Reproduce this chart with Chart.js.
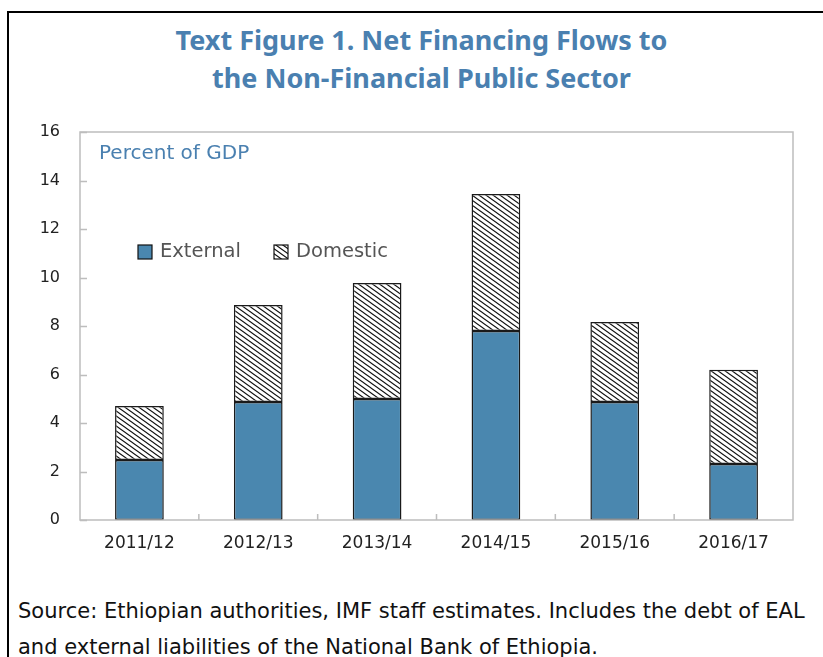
<!DOCTYPE html>
<html>
<head>
<meta charset="utf-8">
<script src="https://cdn.jsdelivr.net/npm/chart.js@4.4.0/dist/chart.umd.min.js"></script>
<style>
  body { margin: 0; background: #fff; width: 823px; height: 657px; overflow: hidden; position: relative; font-family: 'Noto Sans', sans-serif; }
  .frame { position: absolute; left: 7px; top: 11px; width: 830px; height: 700px; border-left: 2px solid #000; border-top: 2px solid #000; }
  .title { position: absolute; left: 0; width: 843px; top: 21px; text-align: center; color: #4A80B0; font-weight: bold; font-size: 27px; line-height: 38px; }
  .unit { position: absolute; left: 99px; top: 140px; color: #4A80B0; font-size: 20px; font-family: 'DejaVu Sans', sans-serif; }
  .note { position: absolute; left: 18px; top: 593px; color: #111; font-size: 21px; line-height: 36px; font-family: 'DejaVu Sans', sans-serif; }
  #wrap { position: absolute; left: 0; top: 103px; width: 823px; height: 457px; }
</style>
</head>
<body>
<div class="frame"></div>
<div class="title">Text Figure 1. Net Financing Flows to<br>the Non-Financial Public Sector</div>
<div id="wrap"><canvas id="chart"></canvas></div>
<div class="unit">Percent of GDP</div>
<div class="note">Source: Ethiopian authorities, IMF staff estimates. Includes the debt of EAL<br>and external liabilities of the National Bank of Ethiopia.</div>
<script>
const years = ['2011/12', '2012/13', '2013/14', '2014/15', '2015/16', '2016/17'];
const external = [2.47, 4.87, 4.99, 7.79, 4.87, 2.31];
const domestic = [2.23, 4.00, 4.78, 5.65, 3.29, 3.89];
const yTicks = [0, 2, 4, 6, 8, 10, 12, 14, 16];

const BLUE = '#4A87AF';

// diagonal hatch for the domestic part
function hatch() {
    const w = 7, h = 5;
    const c = document.createElement('canvas');
    c.width = w; c.height = h;
    const g = c.getContext('2d');
    g.fillStyle = '#fff';
    g.fillRect(0, 0, w, h);
    g.strokeStyle = '#111';
    g.lineWidth = 1.1;
    g.beginPath();
    for (let k = -1; k <= 1; k++) {
        g.moveTo(k * w - w, -h);
        g.lineTo(k * w + 2 * w, 2 * h);
    }
    g.stroke();
    return g.createPattern(c, 'repeat');
}
const hatchFill = hatch();

// plot frame, inside tick marks and legend
const decor = {
    id: 'decor',
    afterDatasetsDraw(chart) {
        const ctx = chart.ctx;
        const a = chart.chartArea;
        const x = chart.scales.x, y = chart.scales.y;
        ctx.save();
        ctx.strokeStyle = '#BDBDBD';
        ctx.lineWidth = 1.5;
        ctx.strokeRect(a.left, a.top, a.right - a.left, a.bottom - a.top);
        ctx.beginPath();
        yTicks.forEach(v => {
            const py = Math.round(y.getPixelForValue(v)) + 0.5;
            ctx.moveTo(a.left, py); ctx.lineTo(a.left + 7, py);
        });
        for (let i = 1; i < years.length; i++) {
            const px = (x.getPixelForValue(i - 1) + x.getPixelForValue(i)) / 2;
            ctx.moveTo(px, a.bottom); ctx.lineTo(px, a.bottom - 6);
        }
        ctx.stroke();

        // legend
        const items = [
            { label: 'External', fill: BLUE, x: a.left + 58 },
            { label: 'Domestic', fill: hatchFill, x: a.left + 194 }
        ];
        const ly = a.top + 120;
        ctx.font = '19.5px "DejaVu Sans"';
        ctx.textBaseline = 'middle';
        items.forEach(it => {
            ctx.fillStyle = it.fill;
            ctx.fillRect(it.x, ly - 7, 14, 14);
            ctx.strokeStyle = '#111';
            ctx.lineWidth = 1.2;
            ctx.strokeRect(it.x, ly - 7, 14, 14);
            ctx.fillStyle = '#555';
            ctx.fillText(it.label, it.x + 22, ly);
        });
        ctx.restore();
    }
};

new Chart(document.getElementById('chart'), {
    type: 'bar',
    data: {
        labels: years,
        datasets: [
            { label: 'External', data: external, backgroundColor: BLUE, borderColor: '#1a1a1a', borderWidth: 1.5, borderSkipped: false },
            { label: 'Domestic', data: domestic, backgroundColor: hatchFill, borderColor: '#1a1a1a', borderWidth: 1.5, borderSkipped: false }
        ]
    },
    options: {
        responsive: true,
        maintainAspectRatio: false,
        animation: false,
        layout: { padding: { left: 0, right: 30, top: 29, bottom: 0 } },
        datasets: { bar: { categoryPercentage: 1, barPercentage: 0.41 } },
        plugins: { legend: { display: false }, tooltip: { enabled: false } },
        scales: {
            x: {
                stacked: true,
                grid: { display: false },
                border: { display: false },
                ticks: { color: '#222', font: { family: 'DejaVu Sans', size: 17 }, padding: 5 },
                afterFit(s) { s.height = 40; }
            },
            y: {
                stacked: true,
                min: 0, max: 16,
                grid: { display: false },
                border: { display: false },
                afterBuildTicks(s) { s.ticks = yTicks.map(v => ({ value: v })); },
                ticks: { color: '#222', font: { family: 'DejaVu Sans', size: 16 }, padding: 12 },
                afterFit(s) { s.width = 80; }
            }
        }
    },
    plugins: [decor]
});
</script>
</body>
</html>
